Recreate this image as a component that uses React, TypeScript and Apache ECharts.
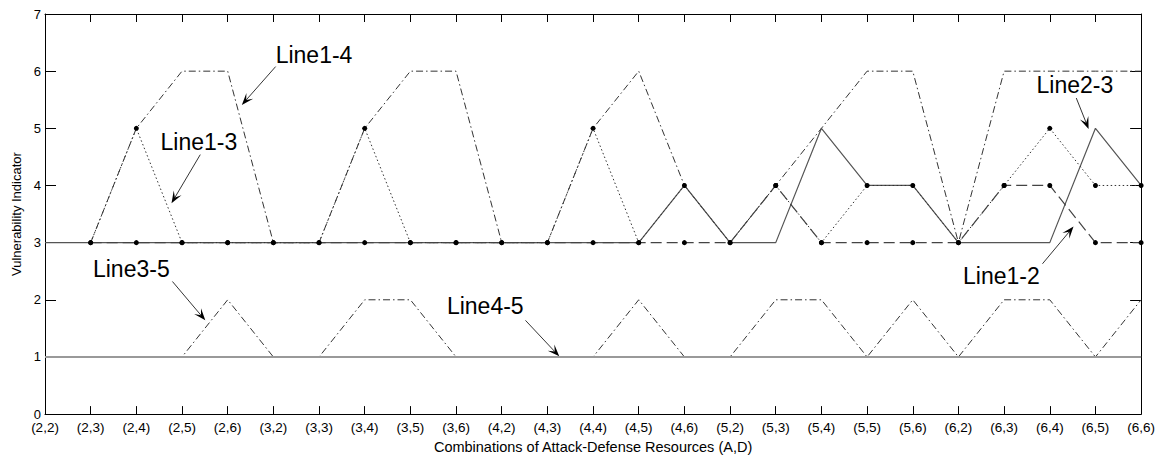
import React, { useEffect, useRef } from 'react';
import * as echarts from 'echarts';

// ---- data ----
const categories = [
  '(2,2)', '(2,3)', '(2,4)', '(2,5)', '(2,6)',
  '(3,2)', '(3,3)', '(3,4)', '(3,5)', '(3,6)',
  '(4,2)', '(4,3)', '(4,4)', '(4,5)', '(4,6)',
  '(5,2)', '(5,3)', '(5,4)', '(5,5)', '(5,6)',
  '(6,2)', '(6,3)', '(6,4)', '(6,5)', '(6,6)',
];
const yMin = 0;
const yMax = 7;
const yStep = 1;

const line12 = [null, 3, 3, 3, 3, 3, 3, 3, 3, 3, 3, 3, 3, 3, 3, 3, 4, 3, 3, 3, 3, 4, 4, 3, 3];
const line13 = [null, 3, 5, 3, 3, 3, 3, 5, 3, 3, 3, 3, 5, 3, 4, 3, 4, 3, 4, 4, 3, 4, 5, 4, 4];
const line14 = [null, 3, 5, 6, 6, 3, 3, 5, 6, 6, 3, 3, 5, 6, 4, 3, 4, 5, 6, 6, 3, 6, 6, 6, 6];
const line23 = [3, 3, 3, 3, 3, 3, 3, 3, 3, 3, 3, 3, 3, 3, 4, 3, 3, 5, 4, 4, 3, 3, 3, 5, 4];
const line35 = [1, 1, 1, 1, 2, 1, 1, 2, 2, 1, 1, 1, 1, 2, 1, 1, 2, 2, 1, 2, 1, 2, 2, 1, 2];
const line45 = [1, 1, 1, 1, 1, 1, 1, 1, 1, 1, 1, 1, 1, 1, 1, 1, 1, 1, 1, 1, 1, 1, 1, 1, 1];

// annotation labels (in data coordinates: [category index, value])
const annotations = [
  { text: 'Line1-4', at: [5.05, 6.28], from: [5.05, 6.08], to: [4.31, 5.41] },
  { text: 'Line1-3', at: [2.53, 4.76], from: [3.4, 4.54], to: [2.77, 3.69] },
  { text: 'Line3-5', at: [1.05, 2.53], from: [2.79, 2.32], to: [3.51, 1.64] },
  { text: 'Line4-5', at: [8.8, 1.9], from: [10.52, 1.64], to: [11.26, 1.01] },
  { text: 'Line2-3', at: [21.71, 5.75], from: [22.58, 5.53], to: [22.85, 4.99] },
  { text: 'Line1-2', at: [20.1, 2.41], from: [21.84, 2.63], to: [22.52, 3.28] },
];

const FONT = '"Liberation Sans", Arial, Helvetica, sans-serif';

export default function App() {
  const ref = useRef<HTMLDivElement>(null);

  useEffect(() => {
    if (!ref.current) return;
    const chart = echarts.init(ref.current, null, { renderer: 'svg' });
    const pairs = (arr: (number | null)[]) => arr.map((v, i) => [i, v == null ? '-' : v]);

    const xBase = {
      type: 'value',
      min: 0,
      max: categories.length - 1,
      interval: 1,
      splitLine: { show: false },
      axisLine: { show: true, onZero: false, lineStyle: { color: '#000', width: 1 } },
      axisTick: { show: true, inside: true, length: 8, lineStyle: { color: '#000' } },
    };
    const yBase = {
      type: 'value',
      min: yMin,
      max: yMax,
      interval: yStep,
      splitLine: { show: false },
      axisLine: { show: true, onZero: false, lineStyle: { color: '#000', width: 1 } },
      axisTick: { show: true, inside: true, length: 11, lineStyle: { color: '#000' } },
    };

    const lineCommon = {
      type: 'line',
      xAxisIndex: 0,
      yAxisIndex: 0,
      connectNulls: false,
      silent: true,
    };

    chart.setOption({
      animation: false,
      backgroundColor: '#fff',
      textStyle: { fontFamily: FONT },
      grid: { left: 45, right: 11, top: 14, bottom: 35, containLabel: false },
      xAxis: [
        {
          ...xBase,
          position: 'bottom',
          name: 'Combinations of Attack-Defense Resources (A,D)',
          nameLocation: 'middle',
          nameGap: 22,
          nameTextStyle: { color: '#000', fontSize: 14.5, fontFamily: FONT },
          axisLabel: {
            show: true,
            color: '#000',
            fontSize: 13.5,
            lineHeight: 14,
            fontFamily: FONT,
            margin: 6,
            formatter: (v: number) => categories[v] ?? '',
          },
        },
        { ...xBase, position: 'top', axisLabel: { show: false } },
      ],
      yAxis: [
        {
          ...yBase,
          position: 'left',
          name: 'Vulnerability Indicator',
          nameLocation: 'middle',
          nameGap: 22,
          nameRotate: 90,
          nameTextStyle: { color: '#000', fontSize: 13, fontFamily: FONT },
          axisLabel: {
            show: true,
            color: '#000',
            fontSize: 13,
            lineHeight: 11,
            fontFamily: FONT,
            margin: 4,
          },
        },
        { ...yBase, position: 'right', axisLabel: { show: false } },
      ],
      series: [
        {
          ...lineCommon,
          name: 'Line3-5',
          data: pairs(line35),
          showSymbol: false,
          lineStyle: { color: '#333', width: 1, type: [7, 3, 1.5, 3] },
        },
        {
          ...lineCommon,
          name: 'Line4-5',
          data: pairs(line45),
          showSymbol: false,
          lineStyle: { color: '#999', width: 2, type: 'solid' },
        },
        {
          ...lineCommon,
          name: 'Line1-4',
          data: pairs(line14),
          showSymbol: false,
          lineStyle: { color: '#333', width: 1, type: [7, 3, 1.5, 3] },
        },
        {
          ...lineCommon,
          name: 'Line2-3',
          data: pairs(line23),
          showSymbol: false,
          lineStyle: { color: '#555', width: 1.2, type: 'solid' },
        },
        {
          ...lineCommon,
          name: 'Line1-3',
          data: pairs(line13),
          showSymbol: true,
          symbol: 'circle',
          symbolSize: 5,
          itemStyle: { color: '#000' },
          lineStyle: { color: '#333', width: 1, type: [1.5, 2.5] },
        },
        {
          ...lineCommon,
          name: 'Line1-2',
          data: pairs(line12),
          showSymbol: true,
          symbol: 'circle',
          symbolSize: 5,
          itemStyle: { color: '#000' },
          lineStyle: { color: '#444', width: 1.2, type: [11, 5] },
        },
      ],
    });

    const finder = { xAxisIndex: 0, yAxisIndex: 0 };
    const graphics: any[] = [];
    annotations.forEach((a) => {
      const p = chart.convertToPixel(finder, a.at) as number[];
      const s = chart.convertToPixel(finder, a.from) as number[];
      const t = chart.convertToPixel(finder, a.to) as number[];
      const dx = t[0] - s[0];
      const dy = t[1] - s[1];
      const len = Math.sqrt(dx * dx + dy * dy) || 1;
      const ux = dx / len;
      const uy = dy / len;
      const nx = -uy;
      const ny = ux;
      const L = 12;
      const W = 4.5;
      const notch = 0.55;
      graphics.push({
        type: 'line',
        silent: true,
        shape: { x1: s[0], y1: s[1], x2: t[0] - ux * L * notch, y2: t[1] - uy * L * notch },
        style: { stroke: '#000', lineWidth: 0.8 },
      });
      graphics.push({
        type: 'polygon',
        silent: true,
        shape: {
          points: [
            [t[0], t[1]],
            [t[0] - ux * L + nx * W, t[1] - uy * L + ny * W],
            [t[0] - ux * L * notch, t[1] - uy * L * notch],
            [t[0] - ux * L - nx * W, t[1] - uy * L - ny * W],
          ],
        },
        style: { fill: '#000' },
      });
      graphics.push({
        type: 'text',
        silent: true,
        x: p[0],
        y: p[1],
        style: {
          text: a.text,
          fill: '#000',
          fontSize: 23,
          fontFamily: FONT,
          align: 'left',
          verticalAlign: 'middle',
        },
      });
    });
    chart.setOption({ graphic: graphics });

    return () => chart.dispose();
  }, []);

  return (
    <div
      ref={ref}
      style={{ position: 'fixed', left: 0, top: 0, width: 1158, height: 459, background: '#fff' }}
    />
  );
}
